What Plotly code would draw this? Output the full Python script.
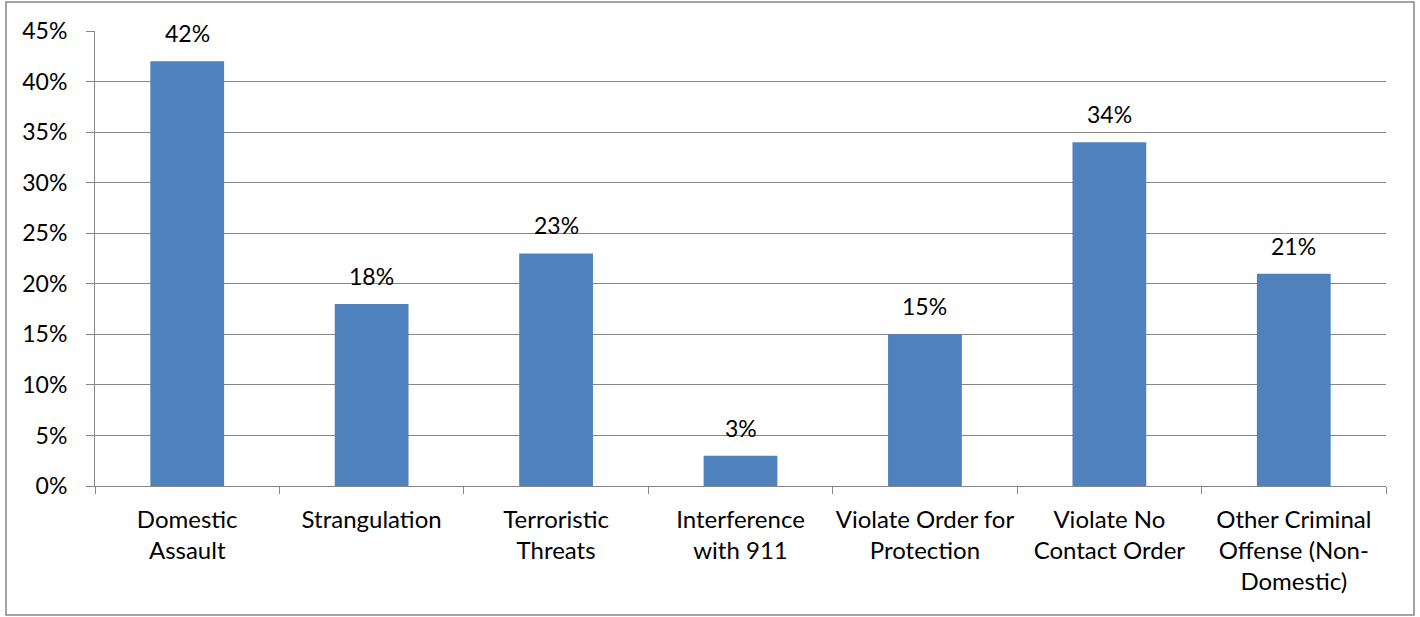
import plotly.graph_objects as go

categories = ["Domestic<br>Assault", "Strangulation", "Terroristic<br>Threats",
              "Interference<br>with 911", "Violate Order for<br>Protection",
              "Violate No<br>Contact Order", "Other Criminal<br>Offense (Non-<br>Domestic)"]
values = [42, 18, 23, 3, 15, 34, 21]
labels = [f"{v}%" for v in values]
y_ticks = [0, 5, 10, 15, 20, 25, 30, 35, 40, 45]
y_ticktext = [f"{t}%" for t in y_ticks]

W, H = 1420, 617
L, R, T, B = 95, 34, 31, 131
pw, ph = W - L - R, H - T - B
FONT = "Lato"
FS = 23

fig = go.Figure(go.Bar(
    x=categories, y=values,
    marker=dict(color="#4F81BD", line=dict(width=0)),
    cliponaxis=False,
))

annotations = [dict(x=c, y=v, text=t, xref="x", yref="y", showarrow=False,
                    yanchor="middle", yshift=28,
                    font=dict(family=FONT, size=FS, color="black"))
               for c, v, t in zip(categories, values, labels)]

def px_x(p):
    return (p - L) / pw

def px_y(p):
    return (H - B - p) / ph

fig.update_layout(
    width=W, height=H,
    margin=dict(l=L, r=R, t=T, b=B),
    paper_bgcolor="white", plot_bgcolor="white",
    bargap=0.6,
    showlegend=False,
    font=dict(family=FONT, size=FS, color="black"),
    annotations=annotations,
    xaxis=dict(
        type="category", showgrid=False, showline=True, linecolor="#868686", linewidth=1,
        ticks="outside", tickson="boundaries", ticklen=7, tickcolor="#868686",
        tickfont=dict(family=FONT, size=24, color="black"), ticklabelstandoff=12,
        tickangle=0, automargin=False,
    ),
    yaxis=dict(
        range=[0, 45], tickvals=y_ticks, ticktext=y_ticktext,
        showgrid=True, gridcolor="#868686", gridwidth=1,
        showline=True, linecolor="#868686", linewidth=1,
        ticks="outside", ticklen=8, tickcolor="#868686",
        tickfont=dict(family=FONT, size=FS, color="black"), ticklabelstandoff=14,
        zeroline=False, fixedrange=True, automargin=False,
    ),
    shapes=[dict(type="rect", xref="paper", yref="paper",
                 x0=px_x(6), x1=px_x(1414), y0=px_y(615), y1=px_y(2),
                 line=dict(color="#868686", width=1.5), fillcolor="rgba(0,0,0,0)", layer="below")],
)

fig.write_html("out.html")
